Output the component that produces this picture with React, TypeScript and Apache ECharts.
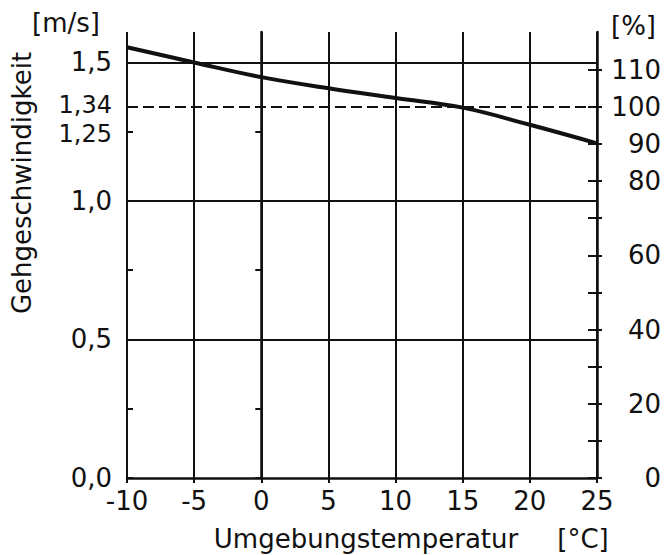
import React, { useEffect, useRef } from "react";
import * as echarts from "echarts";

const temperatures = [-10, -5, 0, 5, 10, 15, 20, 25];
const speeds = [1.555, 1.5, 1.447, 1.407, 1.372, 1.337, 1.275, 1.208];
const speedLabelValues = [0, 0.5, 1.0, 1.25, 1.34, 1.5];
const speedLabelTexts = ["0,0", "0,5", "1,0", "1,25", "1,34", "1,5"];
const speedTickValues = [0, 0.25, 0.5, 0.75, 1.0, 1.25, 1.34, 1.5];
const solidLineValues = [0.5, 1.0, 1.5];
const referenceSpeed = 1.34;
const percentLabelValues = [0, 20, 40, 60, 80, 90, 100, 110];
const percentTickValues = [0, 10, 20, 30, 40, 50, 60, 70, 80, 90, 100, 110];
const speedMax = 1.61;

const FONT = "DejaVu Sans";
const INK = "#111";

export default function App() {
  const ref = useRef<HTMLDivElement>(null);
  useEffect(() => {
    if (!ref.current) return;
    const chart = echarts.init(ref.current, undefined, { renderer: "svg" });
    const percentMax = (speedMax / referenceSpeed) * 100;
    const labelStyle = { color: INK, fontFamily: FONT, fontSize: 26, lineHeight: 21 };
    chart.setOption({
      animation: false,
      backgroundColor: "#fff",
      grid: { left: 127, right: 71, top: 32, bottom: 77 },
      xAxis: {
        type: "value",
        min: -10,
        max: 25,
        interval: 5,
        axisLine: { onZero: false, lineStyle: { color: INK, width: 2.5 } },
        axisTick: { show: true, inside: false, length: 5, lineStyle: { color: INK, width: 2 } },
        axisLabel: { ...labelStyle, margin: 12 },
        splitLine: { show: true, lineStyle: { color: INK, width: 2 } },
      },
      yAxis: [
        {
          type: "value",
          position: "left",
          min: 0,
          max: speedMax,
          axisLine: { show: true, lineStyle: { color: INK, width: 2.5 } },
          axisTick: { show: true, inside: false, length: 6, customValues: speedTickValues, lineStyle: { color: INK, width: 2 } },
          axisLabel: {
            ...labelStyle,
            margin: 15,
            customValues: speedLabelValues,
            formatter: (v: number) => {
              let best = 0;
              speedLabelValues.forEach((s, i) => {
                if (Math.abs(s - v) < Math.abs(speedLabelValues[best] - v)) best = i;
              });
              const t = speedLabelTexts[best];
              if (speedLabelValues[best] === 1.34) return `{up|${t}}`;
              if (speedLabelValues[best] === 1.25) return `{dn|${t}}`;
              return t;
            },
            rich: {
              up: { fontFamily: FONT, fontSize: 24, lineHeight: 20, color: INK, padding: [0, 0, 4, 0] },
              dn: { fontFamily: FONT, fontSize: 24, lineHeight: 20, color: INK, padding: [4, 0, 0, 0] },
            },
          },
          splitLine: { show: false },
        },
        {
          type: "value",
          position: "left",
          min: 0,
          max: speedMax,
          axisLine: { show: false },
          axisTick: { show: true, inside: true, length: 6, customValues: speedTickValues, lineStyle: { color: INK, width: 2 } },
          axisLabel: { show: false },
          splitLine: { show: false },
        },
        {
          type: "value",
          position: "right",
          min: 0,
          max: percentMax,
          axisLine: { show: true, lineStyle: { color: INK, width: 2.5 } },
          axisTick: { show: true, inside: false, length: 5, customValues: percentTickValues, lineStyle: { color: INK, width: 2 } },
          axisLabel: { ...labelStyle, margin: 64, align: "right", customValues: percentLabelValues },
          splitLine: { show: false },
        },
        {
          type: "value",
          position: "right",
          min: 0,
          max: percentMax,
          axisLine: { show: false },
          axisTick: { show: true, inside: true, length: 9, customValues: percentTickValues, lineStyle: { color: INK, width: 2 } },
          axisLabel: { show: false },
          splitLine: { show: false },
        },
      ],
      series: [
        {
          type: "line",
          yAxisIndex: 0,
          data: temperatures.map((t, i) => [t, speeds[i]]),
          smooth: 0.4,
          showSymbol: false,
          lineStyle: { color: INK, width: 4 },
          z: 5,
          markLine: {
            silent: true,
            symbol: "none",
            label: { show: false },
            data: [
              ...solidLineValues.map((v) => ({ yAxis: v, lineStyle: { color: INK, width: 2.2, type: "solid" } })),
              { yAxis: referenceSpeed, lineStyle: { color: INK, width: 2.2, type: [11, 5] } },
            ],
          },
        },
      ],
      graphic: [
        { type: "text", left: 32, top: 10, style: { text: "[m/s]", fill: INK, font: `26px "${FONT}"` } },
        { type: "text", left: 611, top: 13, style: { text: "[%]", fill: INK, font: `26px "${FONT}"` } },
        {
          type: "text",
          x: 22,
          y: 183,
          rotation: Math.PI / 2,
          style: { text: "Gehgeschwindigkeit", fill: INK, font: `26px "${FONT}"`, align: "center", verticalAlign: "middle" },
        },
        {
          type: "text",
          x: 366,
          y: 539,
          style: { text: "Umgebungstemperatur", fill: INK, font: `26px "${FONT}"`, align: "center", verticalAlign: "middle" },
        },
        {
          type: "text",
          x: 583,
          y: 539,
          style: { text: "[°C]", fill: INK, font: `26px "${FONT}"`, align: "center", verticalAlign: "middle" },
        },
      ],
    });
    return () => chart.dispose();
  }, []);
  return <div ref={ref} style={{ position: "fixed", left: 0, top: 0, width: 668, height: 555 }} />;
}
